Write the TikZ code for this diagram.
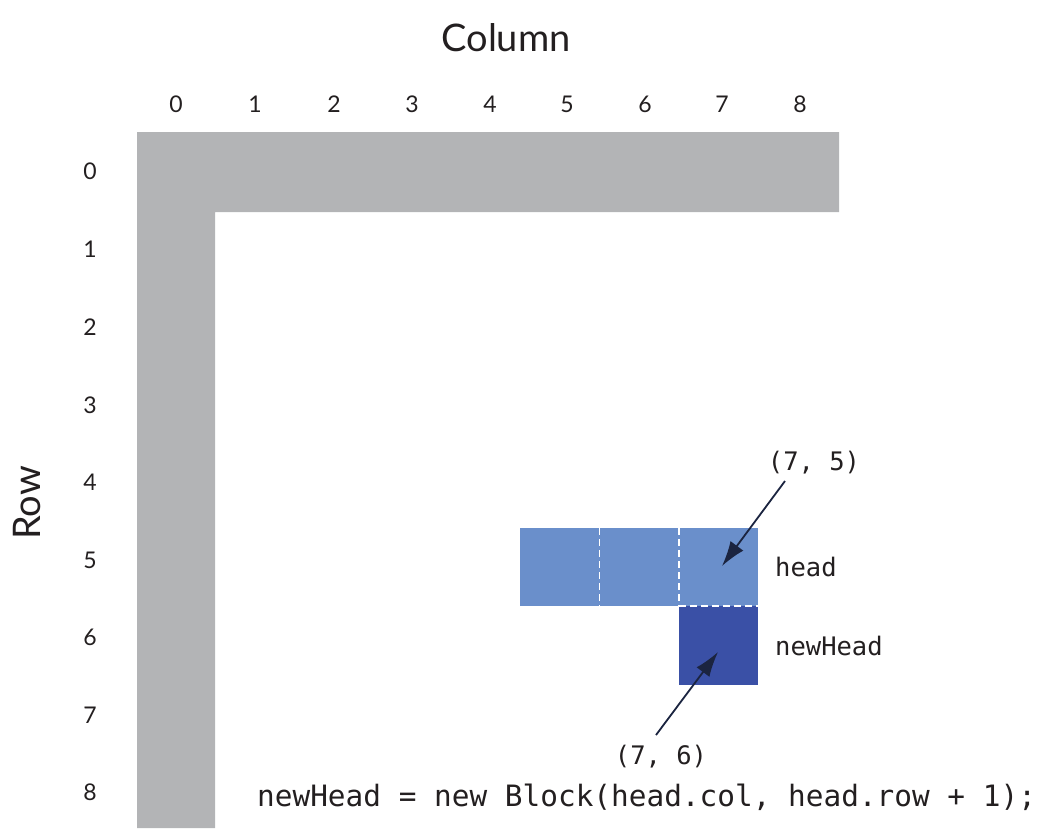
\documentclass[tikz,border=0pt]{standalone}
\usepackage{fontspec}
\setmainfont{Lato}
\setmonofont{DejaVu Sans Mono}
\usetikzlibrary{arrows.meta}
\definecolor{wallgray}{HTML}{B3B4B6}
\definecolor{lightblk}{HTML}{6A8FCB}
\definecolor{darkblk}{HTML}{3A50A6}
\definecolor{inkc}{HTML}{231F20}
\definecolor{arrowc}{HTML}{1B2440}
\tikzset{
  axislabel/.style={font=\fontsize{38}{40}\selectfont, text=inkc, inner sep=0pt},
  idx/.style={font=\fontsize{23}{25}\selectfont, text=inkc, inner sep=0pt},
  code/.style={font=\ttfamily\fontsize{25.5}{28}\selectfont, text=inkc, inner sep=0pt},
  bigcode/.style={font=\ttfamily\fontsize{29.4}{32}\selectfont, text=inkc, inner sep=0pt},
  cellsep/.style={draw=white, line width=1.5pt, dash pattern=on 7pt off 4pt},
  pointer/.style={draw=arrowc, line width=1.8pt, -{Latex[length=25pt,width=16pt]}}
}
\begin{document}
\begin{tikzpicture}[x=1pt,y=-1pt]
\useasboundingbox (0,0) rectangle (1048,828);
% wall L
\fill[wallgray] (137,132) -- (839,132) -- (839,212) -- (215,212) -- (215,828) -- (137,828) -- cycle;
% axis titles
\node[axislabel] (coltitle) at (506,38) {Column};
\node[axislabel, rotate=90] (rowtitle) at (27,503) {Row};
% column indices
\foreach \c/\x in {0/176,1/255,2/334,3/412,4/490,5/567,6/645,7/722,8/800}
  \node[idx] (col\c) at (\x,104) {\c};
% row indices
\foreach \r/\y in {0/171,1/249,2/327,3/405,4/482,5/560,6/637,7/715,8/792}
  \node[idx] (row\r) at (90,\y) {\r};
% snake body
\fill[lightblk] (520,528) rectangle (758,606);
\fill[darkblk] (679,606) rectangle (758,685);
\draw[cellsep] (599.5,528) -- (599.5,606);
\draw[cellsep] (679,528) -- (679,606);
\draw[cellsep] (679,606) -- (758,606);
\node[minimum size=78pt, inner sep=0pt] (headcell) at (718.5,567) {};
\node[minimum size=78pt, inner sep=0pt] (newcell) at (718.5,645.5) {};
% labels
\node[code, anchor=west] (headlab) at (775,567) {head};
\node[code, anchor=west] (newlab) at (775,646) {newHead};
\node[code] (p75) at (814,463) {(7, 5)};
\node[code] (p76) at (661,757) {(7, 6)};
\node[bigcode, anchor=west] (stmt) at (257,797) {newHead = new Block(head.col, head.row + 1);};
% pointers
\coordinate (a1s) at (785,481);
\coordinate (a1e) at (722,566);
\coordinate (a2s) at (656,735);
\coordinate (a2e) at (718,652);
\draw[pointer] (a1s) -- (a1e);
\draw[pointer] (a2s) -- (a2e);
\end{tikzpicture}
\end{document}
